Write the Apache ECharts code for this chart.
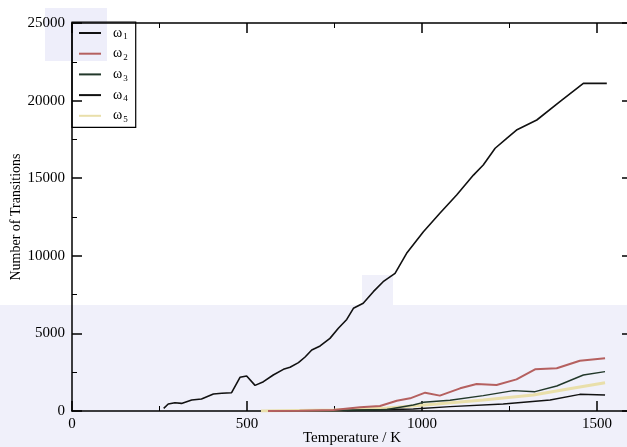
<!DOCTYPE html>
<html>
<head>
<meta charset="utf-8">
<script src="https://cdn.jsdelivr.net/npm/echarts@6/dist/echarts.min.js"></script>
<style>
html,body{margin:0;padding:0;background:#fff;}
#chart{width:627px;height:447px;}
</style>
</head>
<body>
<div id="chart"></div>
<script>
// ---- data ----
const seriesNames = ['ω1', 'ω2', 'ω3', 'ω4', 'ω5'];
const xTicks = [0, 500, 1000, 1500];
const yTicks = [0, 5000, 10000, 15000, 20000, 25000];

const w1Temp = [262, 275, 294, 313, 342, 370, 404, 428, 456, 480, 499, 523, 547, 575, 604, 623, 647, 666, 685, 709, 737, 761, 785, 804, 832, 861, 889, 923, 956, 1004, 1051, 1099, 1147, 1175, 1209, 1242, 1270, 1328, 1394, 1461, 1528];
const w1Count = [170, 450, 535, 490, 710, 770, 1095, 1140, 1180, 2170, 2255, 1650, 1890, 2320, 2685, 2815, 3115, 3480, 3930, 4190, 4680, 5330, 5900, 6615, 6940, 7690, 8330, 8870, 10160, 11550, 12740, 13920, 15200, 15850, 16930, 17570, 18100, 18750, 19930, 21110, 21110];

const w2Temp = [560, 650, 747, 823, 880, 928, 966, 1009, 1051, 1109, 1156, 1213, 1270, 1323, 1385, 1451, 1523];
const w2Count = [0, 10, 64, 237, 322, 665, 815, 1180, 990, 1460, 1740, 1675, 2040, 2685, 2750, 3240, 3395];

const w3Temp = [560, 750, 900, 975, 1004, 1080, 1175, 1261, 1323, 1385, 1461, 1523];
const w3Count = [0, 30, 100, 387, 560, 690, 990, 1310, 1245, 1610, 2320, 2535];

const w4Temp = [560, 750, 975, 1080, 1232, 1366, 1451, 1523];
const w4Count = [0, 20, 130, 280, 450, 710, 1075, 1030];

const w5Temp = [540, 750, 900, 1042, 1175, 1318, 1413, 1523];
const w5Count = [0, 60, 200, 450, 710, 1030, 1400, 1825];

// ---- build chart ----
const zip = (xs, ys) => xs.map((x, i) => [x, ys[i]]);
const temps = [w1Temp, w2Temp, w3Temp, w4Temp, w5Temp];
const counts = [w1Count, w2Count, w3Count, w4Count, w5Count];
const colors = ['#111111', '#b5605f', '#22382a', '#111111', '#e9dfaa'];
const widths = [1.6, 2, 1.4, 1.4, 3];

const font = 'Liberation Serif';
const chart = echarts.init(document.getElementById('chart'));

const baseX = {
  type: 'value', min: 0, max: 1600, interval: 500,
  axisLine: {onZero: false, lineStyle: {color: '#000', width: 1.5}},
  axisTick: {inside: true, length: 10, lineStyle: {color: '#000', width: 1.5}},
  minorTick: {show: true, splitNumber: 2, length: 5, lineStyle: {color: '#000', width: 1}},
  splitLine: {show: false}
};
const baseY = {
  type: 'value', min: 0, max: 25000, interval: 5000,
  axisLine: {show: true, onZero: false, lineStyle: {color: '#000', width: 1.5}},
  axisTick: {show: true, inside: true, length: 10, lineStyle: {color: '#000', width: 1.5}},
  minorTick: {show: true, splitNumber: 2, length: 5, lineStyle: {color: '#000', width: 1}},
  splitLine: {show: false}
};

chart.setOption({
  animation: false,
  backgroundColor: '#ffffff',
  graphic: [
    {type: 'rect', z: -10, shape: {x: 0, y: 305, width: 627, height: 142}, style: {fill: '#f0f0fa'}},
    {type: 'rect', z: -10, shape: {x: 45, y: 8, width: 62, height: 53}, style: {fill: '#eeeefa'}},
    {type: 'rect', z: -10, shape: {x: 362, y: 275, width: 31, height: 30}, style: {fill: '#f0f0fa'}}
  ],
  grid: {left: 72, top: 23, width: 560, height: 388, containLabel: false, outerBoundsMode: 'none'},
  xAxis: [
    Object.assign({}, baseX, {
      position: 'bottom',
      name: 'Temperature / K', nameLocation: 'middle', nameGap: 20, nameMoveOverlap: false,
      nameTextStyle: {fontFamily: font, fontSize: 15, color: '#000'},
      axisLabel: {fontFamily: font, fontSize: 15, color: '#000', margin: 6,
        formatter: v => (xTicks.indexOf(v) >= 0 ? String(v) : '')}
    }),
    Object.assign({}, baseX, {position: 'top', axisLabel: {show: false}})
  ],
  yAxis: [
    Object.assign({}, baseY, {
      position: 'left',
      name: 'Number of Transitions', nameLocation: 'middle', nameGap: 49, nameMoveOverlap: false,
      nameTextStyle: {fontFamily: font, fontSize: 14, color: '#000'},
      axisLabel: {fontFamily: font, fontSize: 15, color: '#000', margin: 7,
        formatter: v => (yTicks.indexOf(v) >= 0 ? String(v) : '')}
    }),
    Object.assign({}, baseY, {position: 'right', axisLabel: {show: false}})
  ],
  legend: {
    orient: 'vertical', left: 72, top: 22,
    data: seriesNames,
    itemWidth: 22, itemHeight: 14, itemGap: 5.2,
    padding: [4, 8, 3, 6],
    borderColor: '#000', borderWidth: 1.2, borderRadius: 0,
    backgroundColor: 'rgba(255,255,255,0)',
    selectedMode: false,
    itemStyle: {opacity: 0},
    formatter: n => '{w|ω}{s|' + n.slice(1) + '}',
    textStyle: {
      fontFamily: font, color: '#000', padding: [0, 0, 0, 7],
      rich: {
        w: {fontFamily: font, fontSize: 14, color: '#000'},
        s: {fontFamily: font, fontSize: 9, color: '#000', padding: [8, 0, 0, 1]}
      }
    }
  },
  series: seriesNames.map((name, i) => ({
    name: name,
    type: 'line',
    data: zip(temps[i], counts[i]),
    symbol: 'none',
    showSymbol: false,
    smooth: false,
    color: colors[i],
    lineStyle: {color: colors[i], width: widths[i]},
    z: 5 - i
  }))
});
</script>
</body>
</html>
